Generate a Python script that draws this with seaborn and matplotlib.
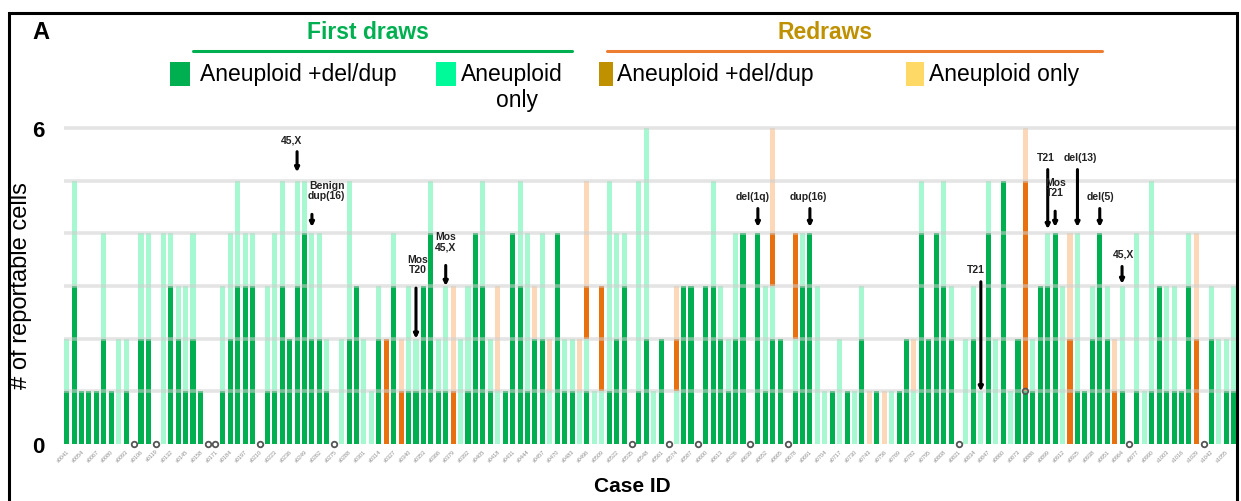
import numpy as np
import pandas as pd
import matplotlib
matplotlib.use("Agg")
import matplotlib.pyplot as plt
import seaborn as sns
from matplotlib.patches import Rectangle
from matplotlib.lines import Line2D

# ---------------- data ----------------
# per case: first draw (aneuploid+del/dup, aneuploid only), redraw (aneuploid+del/dup, aneuploid only)
first_deldup = [1,3,1,1,1,2,1,0,1,0, 2,2,0,0,3,2,1,2,1,0, 0,1,2,3,3,3,0,1,1,3,
                2,3,4,2,2,1,0,0,2,3, 0,0,2,0,3,0,1,1,3,4, 1,1,0,0,1,4,3,1,0,1,
                4,3,1,2,2,0,4,1,1,0, 1,0,0,1,2,3,0,1,2,0, 2,0,0,3,3,0,3,3,2,1,
                2,4,0,4,1,2,2,0,1,3, 4,0,0,1,0,1,0,2,0,1, 0,0,1,2,0,4,2,4,3,2,
                0,0,2,0,4,0,5,0,2,1, 1,3,3,4,0,0,1,1,2,4, 2,0,1,0,1,0,1,3,1,1,
                1,3,0,0,2,0,1,1]
first_only   = [1,2,0,0,0,2,0,2,1,0, 2,2,0,4,1,1,2,2,0,0, 0,2,2,2,1,1,0,2,3,2,
                0,2,1,2,2,1,0,2,3,0, 2,1,1,0,1,0,2,1,0,1, 1,2,0,2,2,0,2,1,1,0,
                0,2,3,0,2,1,0,1,1,1, 1,1,1,4,2,1,0,4,4,1, 0,0,1,0,0,0,0,2,1,1,
                2,0,0,0,2,1,0,0,1,1, 0,3,1,0,2,0,1,1,0,0, 0,1,0,0,1,1,0,0,2,1,
                0,2,1,1,1,2,0,1,0,0, 1,0,1,0,3,0,3,0,1,0, 1,0,2,0,3,1,4,0,2,2,
                0,1,0,0,1,2,1,2]
redraw_deldup = [0,0,0,0,0,0,0,0,0,0, 0,0,0,0,0,0,0,0,0,0, 0,0,0,0,0,0,0,0,0,0,
                 0,0,0,0,0,0,0,0,0,0, 0,0,0,2,0,1,0,0,0,0, 0,0,1,0,0,0,0,0,0,0,
                 0,0,0,0,0,0,0,0,0,0, 1,0,2,0,0,0,0,0,0,0, 0,0,1,0,0,0,0,0,0,0,
                 0,0,0,0,0,1,0,0,2,0, 0,0,0,0,0,0,0,0,0,0, 0,0,0,0,0,0,0,0,0,0,
                 0,0,0,0,0,0,0,0,0,4, 0,0,0,0,0,2,0,0,0,0, 0,1,0,0,0,0,0,0,0,0,
                 0,0,2,0,0,0,0,0]
redraw_only   = [0,0,0,0,0,0,0,0,0,0, 0,0,0,0,0,0,0,0,0,0, 0,0,0,0,0,0,0,0,0,0,
                 0,0,0,0,0,0,0,0,0,0, 0,0,0,0,0,1,0,0,0,0, 0,0,2,0,0,0,0,0,2,0,
                 0,0,0,1,0,1,0,0,0,1, 2,0,0,0,0,0,0,0,0,0, 0,0,1,0,0,0,0,0,0,0,
                 0,0,0,0,0,2,0,0,0,0, 0,0,0,0,0,0,0,0,1,0, 1,0,0,0,1,0,0,0,0,0,
                 0,0,0,0,0,0,0,0,0,1, 0,0,0,0,0,2,0,0,0,0, 0,1,0,0,0,0,0,0,0,0,
                 0,0,2,0,0,0,0,0]
case_ids = [f"s{41 + 13 * i:04d}" for i in range(79)]

annot_text = ["45,X", "Benign\ndup(16)", "Mos\nT20", "Mos\n45,X", "del(1q)", "dup(16)",
              "T21", "T21", "Mos\nT21", "del(13)", "del(5)", "45,X"]
annot_case = [31, 33, 47, 51, 93, 100, 123, 132, 133, 136, 139, 142]
annot_tip  = [5.16, 4.12, 2.0, 3.0, 4.12, 4.12, 1.0, 4.08, 4.12, 4.12, 4.12, 3.04]
annot_ytxt = [5.79, 4.82, 3.42, 3.85, 4.71, 4.71, 3.32, 5.45, 4.88, 5.45, 4.71, 3.61]
annot_dx   = [-0.8, 2.0, 0.2, 0.0, -0.7, -0.2, -0.7, -0.3, 0.0, 0.4, 0.1, 0.2]

n = len(first_deldup)
df = pd.DataFrame({"pos": np.arange(n), "fd": first_deldup, "fl": first_only,
                   "rd": redraw_deldup, "rl": redraw_only})
df["c1"] = df["fd"]
df["c2"] = df["c1"] + df["fl"]
df["c3"] = df["c2"] + df["rd"]
df["c4"] = df["c3"] + df["rl"]

GREEN = "#00B050"
MINT = "#A6F8D0"
ORANGE = "#E8700F"
PEACH = "#FDD8B8"

sns.set_theme(style="white")
plt.rcParams["font.family"] = ["Liberation Sans", "DejaVu Sans"]
plt.rcParams["text.color"] = "black"
plt.rcParams["axes.labelcolor"] = "black"
plt.rcParams["ytick.color"] = "black"

W, H = 1241, 502
fig = plt.figure(figsize=(W / 100, H / 100), dpi=100)
ax = fig.add_axes([63.7 / W, (H - 445) / H, 1172.8 / W, 6.06 * 52.67 / H])

for col, colr in [("c4", PEACH), ("c3", ORANGE), ("c2", MINT), ("c1", GREEN)]:
    sns.barplot(data=df, x="pos", y=col, color=colr, width=0.68, linewidth=0,
                saturation=1, ax=ax, zorder=2)

ax.set_xlim(-0.4, n - 0.6)
ax.set_ylim(0, 6.06)
for g in range(1, 7):
    ax.axhline(g, color="#CFCFCF", lw=2.6, alpha=0.55, zorder=3)

sns.despine(ax=ax, left=True, bottom=True)
ax.set_yticks([0, 6])
ax.set_yticklabels(["0", "6"], fontsize=16, fontweight="bold", color="black")
ax.tick_params(axis="both", length=0)
ax.tick_params(axis="y", pad=14)
ax.set_xticks(np.arange(0, n, 2))
ax.set_xticklabels(case_ids[: len(np.arange(0, n, 2))], rotation=45, ha="right",
                   rotation_mode="anchor", fontsize=4, color="#8C8C8C")
ax.tick_params(axis="x", pad=3)
ax.set_xlabel("Case ID", fontsize=15, fontweight="bold", color="black")
ax.set_ylabel("# of reportable cells", fontsize=17, color="black")
ax.xaxis.set_label_coords((632 - 63.7) / 1172.8, (445 - 477) / (6.06 * 52.67))
ax.yaxis.set_label_coords((32 - 63.7) / 1172.8, 0.5)

# zero markers
zero = df[df["c4"] == 0]
ax.scatter(zero["pos"], np.zeros(len(zero)), s=16, marker="o", facecolor="white",
           edgecolor="#555555", linewidth=1.3, zorder=6, clip_on=False)
ax.scatter([129], [1.0], s=16, marker="o", facecolor="none",
           edgecolor="#555555", linewidth=1.2, zorder=6)

# annotations
for t, c, tip, ty, dx in zip(annot_text, annot_case, annot_tip, annot_ytxt, annot_dx):
    ax.annotate("", xy=(c, tip), xytext=(c, ty - 0.22 * (t.count("\n") + 1) - 0.02),
                arrowprops=dict(arrowstyle="-|>", color="black", lw=2.2,
                                mutation_scale=6, shrinkA=0, shrinkB=0), zorder=7)
    ax.text(c + dx, ty, t, ha="center", va="center", fontsize=7.5,
            fontweight="bold", color="#222222", linespacing=1.0, zorder=8)

# ---------------- header / legend ----------------
def fx(x):
    return x / W

def fy(y):
    return 1 - y / H

fig.patches.append(Rectangle((fx(9), fy(H + 10)), fx(1237) - fx(9), fy(14) - fy(H + 10),
                             transform=fig.transFigure, fill=False, lw=2.2,
                             edgecolor="black"))
fig.text(fx(41), fy(33), "A", fontsize=17, fontweight="bold", ha="center", va="center")
fig.text(fx(368), fy(33), "First draws", fontsize=16.5, fontweight="bold",
         color=GREEN, ha="center", va="center")
fig.text(fx(825), fy(33), "Redraws", fontsize=16.5, fontweight="bold",
         color="#BF9000", ha="center", va="center")
fig.add_artist(Line2D([fx(193), fx(572)], [fy(52), fy(52)], color=GREEN, lw=2.2,
                      transform=fig.transFigure))
fig.add_artist(Line2D([fx(607), fx(1102)], [fy(52), fy(52)], color="#ED7D31", lw=2.2,
                      transform=fig.transFigure))

legend_items = [(170, 20, "#00B050", 200, "Aneuploid +del/dup"),
                (436, 20, "#00FA9A", 461, "Aneuploid\nonly"),
                (599, 14, "#BF9000", 617, "Aneuploid +del/dup"),
                (906, 18, "#FFD966", 929, "Aneuploid only")]
for px, pw, colr, tx, label in legend_items:
    fig.patches.append(Rectangle((fx(px), fy(87)), fx(pw), fy(63) - fy(87),
                                 transform=fig.transFigure, color=colr, lw=0))
    if "\n" in label:
        first, second = label.split("\n")
        fig.text(fx(tx), fy(75), first, fontsize=16.5, ha="left", va="center")
        fig.text(fx(517), fy(101), second, fontsize=16.5, ha="center", va="center")
    else:
        fig.text(fx(tx), fy(75), label, fontsize=16.5, ha="left", va="center")

fig.savefig("out.png", dpi=100)
